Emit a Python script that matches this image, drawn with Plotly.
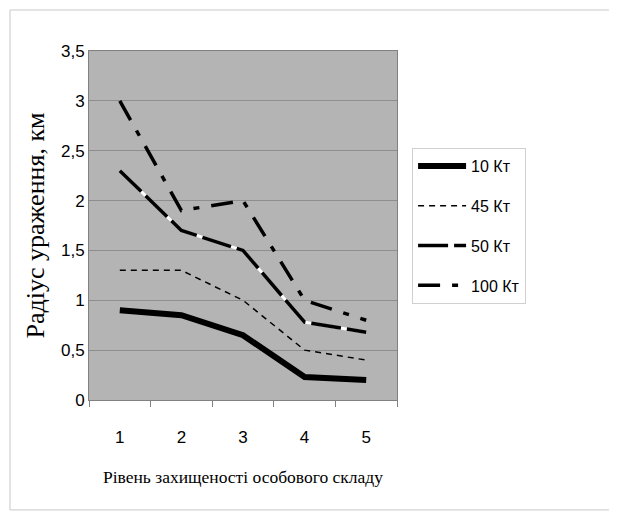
import plotly.graph_objects as go

categories = [1, 2, 3, 4, 5]
category_labels = ["1", "2", "3", "4", "5"]
boundaries = [0.5, 1.5, 2.5, 3.5, 4.5, 5.5]
series_names = ["10 Кт", "45 Кт", "50 Кт", "100 Кт"]
v10 = [0.9, 0.85, 0.65, 0.23, 0.2]
v45 = [1.3, 1.3, 1.0, 0.5, 0.4]
v50 = [2.3, 1.7, 1.5, 0.78, 0.68]
v100 = [3.0, 1.9, 2.0, 1.0, 0.8]
y_tickvals = [0, 0.5, 1, 1.5, 2, 2.5, 3, 3.5]
y_ticktext = ["0", "0,5", "1", "1,5", "2", "2,5", "3", "3,5"]

fig = go.Figure()
fig.add_trace(go.Scatter(x=categories, y=v10, mode="lines", name=series_names[0],
                         legendgroup="a", line=dict(color="black", width=6)))
fig.add_trace(go.Scatter(x=categories, y=v45, mode="lines", name=series_names[1],
                         legendgroup="b", line=dict(color="black", width=1.5, dash="6px,5px")))
fig.add_trace(go.Scatter(x=categories, y=v50, mode="lines", showlegend=False,
                         legendgroup="c", hoverinfo="skip", line=dict(color="white", width=3)))
fig.add_trace(go.Scatter(x=categories, y=v50, mode="lines", name=series_names[2],
                         legendgroup="c", line=dict(color="black", width=3.5, dash="30px,6px")))
fig.add_trace(go.Scatter(x=categories, y=v100, mode="lines", name=series_names[3],
                         legendgroup="d", line=dict(color="black", width=3.5, dash="22px,12px,6px,12px")))

fig.update_layout(
    width=609, height=509,
    margin=dict(l=81, r=220, t=43, b=117),
    paper_bgcolor="white",
    plot_bgcolor="#b4b4b4",
    font=dict(family="Liberation Sans", color="black", size=16),
    legend=dict(x=1.049, y=0.722, xanchor="left", yanchor="top",
                bordercolor="#d0d0d0", borderwidth=1, bgcolor="white",
                font=dict(size=16), tracegroupgap=16, itemwidth=48),
    xaxis=dict(range=[0.5, 5.5], tickvals=categories, ticktext=category_labels,
               ticks="", ticklabelstandoff=22,
               minor=dict(tickvals=boundaries, ticks="outside", ticklen=6, tickcolor="#808080"),
               showgrid=False, showline=True, linecolor="#808080", zeroline=False,
               mirror=True, tickfont=dict(size=17),
               title=dict(text="Рівень захищеності особового складу",
                          font=dict(family="Liberation Serif", size=17.5), standoff=24)),
    yaxis=dict(range=[0, 3.5], tickvals=y_tickvals, ticktext=y_ticktext,
               showgrid=True, gridcolor="#8e8e8e", gridwidth=1,
               showline=True, linecolor="#808080", mirror=True, ticks="",
               tickfont=dict(size=17), zeroline=False,
               title=dict(text="Радіус ураження, км",
                          font=dict(family="Liberation Serif", size=26), standoff=8)),
    shapes=[dict(type="rect", xref="paper", yref="paper",
                 x0=-0.2565, x1=1.6916, y0=-0.315, y1=1.1175,
                 line=dict(color="#c8c8c8", width=1), fillcolor="rgba(0,0,0,0)", layer="below")],
)

fig.write_html("out.html")
